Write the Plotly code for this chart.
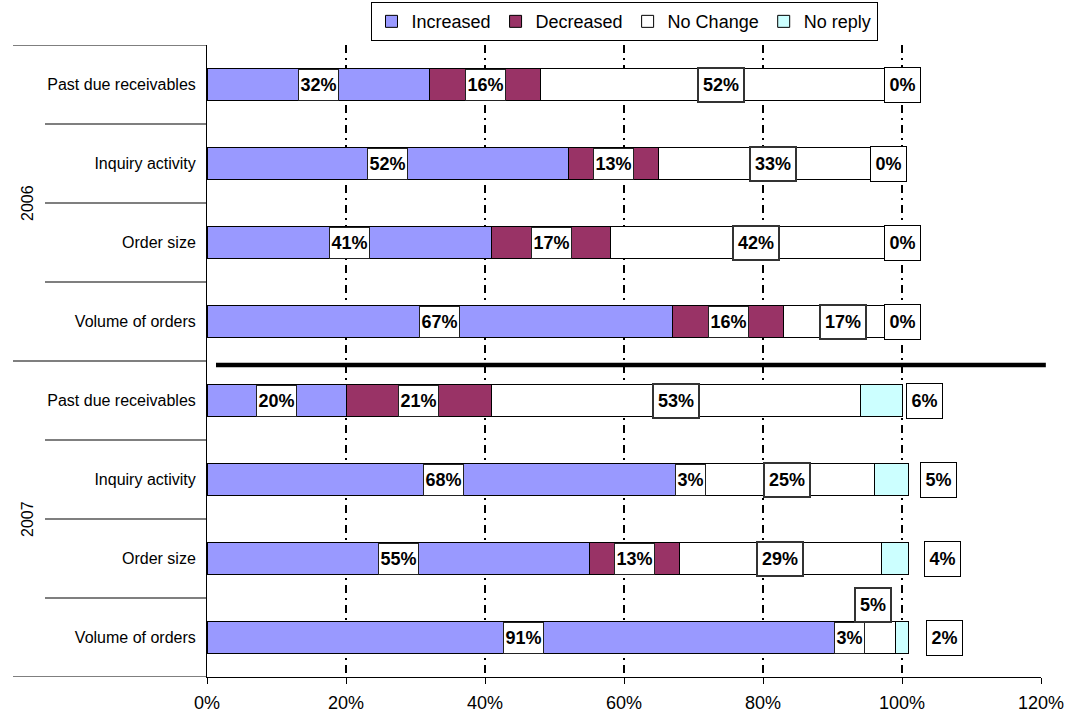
import plotly.graph_objects as go

# Survey results: share of respondents per answer, by year and measure
groups = ["2006", "2007"]
measures = ["Past due receivables", "Inquiry activity", "Order size", "Volume of orders"]
row_names = measures * len(groups)

series_names = ["Increased", "Decreased", "No Change", "No reply"]
increased = [32, 52, 41, 67, 20, 68, 55, 91]
decreased = [16, 13, 17, 16, 21, 3, 13, 3]
no_change = [52, 33, 42, 17, 53, 25, 29, 5]
no_reply = [0, 0, 0, 0, 6, 5, 4, 2]
series_values = [increased, decreased, no_change, no_reply]

series_colors = ["#9999FF", "#993366", "#FFFFFF", "#CCFFFF"]
FONT = "Liberation Sans, Arial, sans-serif"

rows = list(range(len(row_names)))

fig = go.Figure()
for name, vals, color in zip(series_names, series_values, series_colors):
    fig.add_trace(go.Bar(
        y=rows, x=[v / 100 for v in vals], name=name, orientation="h",
        width=0.4, marker=dict(color=color, line=dict(color="black", width=1)),
        hoverinfo="skip",
    ))

# Data labels: centred on their segment unless moved aside for readability
label_moves = {  # (series, row) -> (x position, vertical shift in px)
    (3, 4): (1.033, 0), (3, 5): (1.052, 0), (3, 6): (1.058, 0), (3, 7): (1.061, 0),
    (2, 7): (0.958, 33),
}
annotations = []
starts = [0] * len(rows)
for si, vals in enumerate(series_values):
    for r, v in enumerate(vals):
        centre = (starts[r] + v / 2) / 100
        starts[r] += v
        if si == 3 and v == 0:
            centre = starts[r] / 100
        x, yshift = label_moves.get((si, r), (centre, 0))
        ndig = len(str(v))
        if si < 2:
            w, h, bc, bw = 10 * ndig + 19, 30, "#222222", 1
        elif si == 2:
            w, h, bc, bw = 10 * ndig + 24, 32, "#333333", 2
        else:
            w, h, bc, bw = 10 * ndig + 25, 34, "black", 1
        annotations.append(dict(
            x=x, y=r, xref="x", yref="y", yshift=yshift, text=f"{v}%", showarrow=False,
            font=dict(family=FONT, size=18, color="black", weight="bold"),
            bgcolor="white", bordercolor=bc, borderwidth=bw, borderpad=0,
            width=w, height=h, align="center", valign="middle",
        ))

# Year group labels on the left
for gi, g in enumerate(groups):
    annotations.append(dict(
        x=0, y=gi * len(measures) + (len(measures) - 1) / 2, xref="paper", yref="y",
        xanchor="center", yanchor="middle",
        xshift=-180, text=g, textangle=-90, showarrow=False,
        font=dict(family=FONT, size=16, color="black"),
    ))

shapes = []
# Category divider lines to the left of the axis
n = len(rows)
for k in range(n + 1):
    b = k - 0.5
    long_line = k % len(measures) == 0
    shapes.append(dict(
        type="line", xref="paper", xsizemode="pixel", xanchor=0,
        x0=-194 if long_line else -162, x1=0, yref="y", y0=b, y1=b,
        line=dict(color="black", width=1.2),
    ))
# Heavy rule separating the two years
shapes.append(dict(
    type="line", xref="paper", x0=0.0108, x1=1.0058, yref="y", y0=3.55, y1=3.55,
    line=dict(color="black", width=4.5),
))

fig.update_layout(
    barmode="stack",
    width=1076, height=715,
    margin=dict(l=207, r=35, t=45, b=38, autoexpand=False),
    paper_bgcolor="white", plot_bgcolor="white",
    font=dict(family=FONT, color="black"),
    showlegend=True,
    legend=dict(
        orientation="h", xref="paper", x=0.5, xanchor="center",
        yref="container", y=0.997, yanchor="top",
        bordercolor="black", borderwidth=1, bgcolor="white",
        font=dict(family=FONT, size=18, color="black"),
        traceorder="normal", itemwidth=30, tracegroupgap=0,
    ),
    xaxis=dict(
        range=[0, 1.2], dtick=0.2, tick0=0, tickformat=".0%", automargin=False,
        showgrid=True, gridcolor="black", gridwidth=2, griddash="8px,5px,2px,5px",
        zeroline=False, showline=True, linecolor="black", linewidth=1,
        ticks="outside", ticklen=6, tickcolor="black", ticklabelstandoff=3,
        tickfont=dict(family=FONT, size=18, color="black"),
    ),
    yaxis=dict(
        range=[n - 0.5, -0.5], tickvals=rows, ticktext=row_names, automargin=False,
        showgrid=False, zeroline=False, showline=True, linecolor="black", linewidth=1,
        ticks="", ticklabelstandoff=7,
        tickfont=dict(family=FONT, size=16, color="black"),
    ),
    annotations=annotations,
    shapes=shapes,
)

fig.write_html("out.html")
